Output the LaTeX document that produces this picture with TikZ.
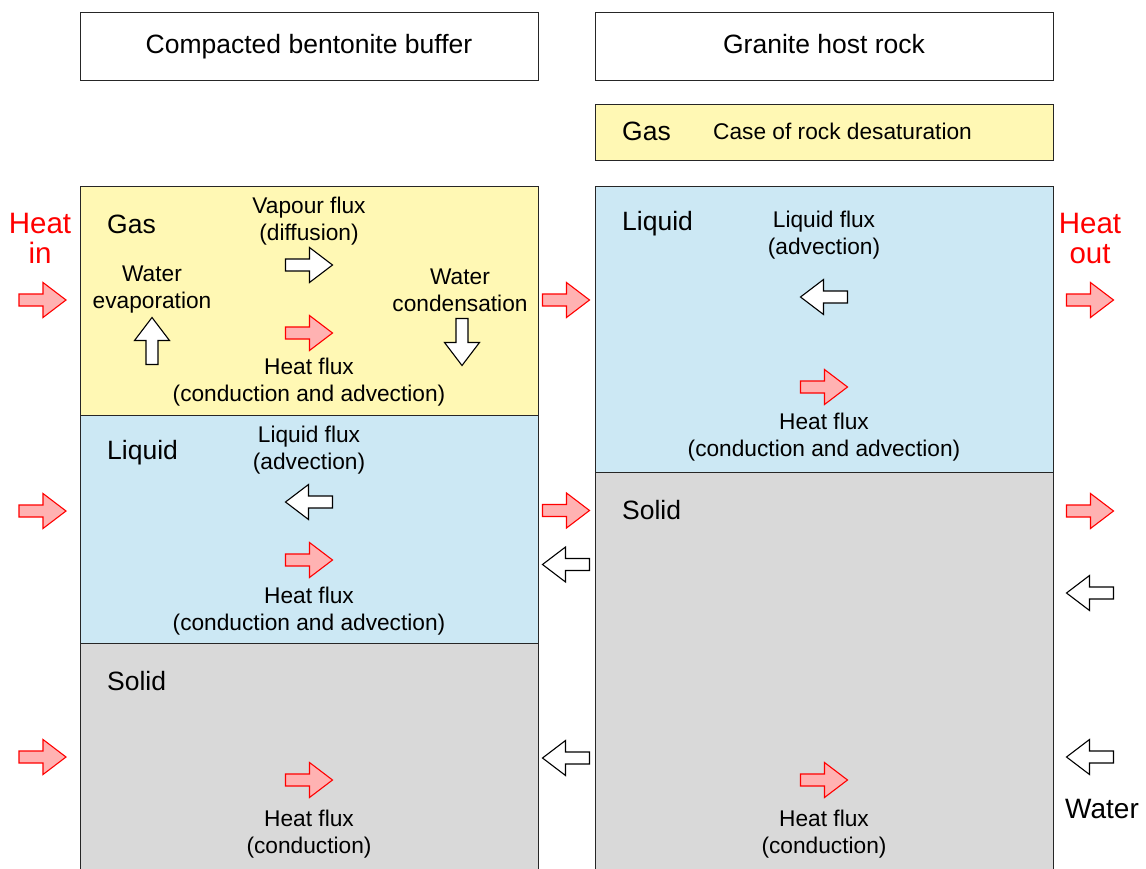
\documentclass[tikz,border=0pt]{standalone}
\usepackage{fontspec}
\setmainfont{Liberation Sans}
\begin{document}
\begin{tikzpicture}[x=1pt,y=-1pt,
  box/.style={draw=black!85,line width=1.2pt,inner sep=0pt,anchor=north west},
  gasfill/.style={fill=gasc},
  liqfill/.style={fill=liqc},
  solfill/.style={fill=solc},
  big/.style={font=\fontsize{26.5}{30}\selectfont,inner sep=0pt},
  small/.style={font=\fontsize{22.7}{27}\selectfont,align=center,inner sep=0pt},
  heatlbl/.style={font=\fontsize{29.5}{30}\selectfont,align=center,inner sep=0pt,text=red},
  redarr/.style={draw=red,fill=arrred,line width=1.1pt,line join=miter},
  whitearr/.style={draw=black,fill=white,line width=1.1pt,line join=miter},
  fat/.pic={\path[pic actions] (-23.5,-6) -- (0.5,-6) -- (0.5,-17.5) -- (23.5,0) -- (0.5,17.5) -- (0.5,6) -- (-23.5,6) -- cycle;}
]
\definecolor{gasc}{RGB}{255,248,180}
\definecolor{liqc}{RGB}{204,232,244}
\definecolor{solc}{RGB}{217,217,217}
\definecolor{arrred}{RGB}{255,178,178}
\useasboundingbox (0,0) rectangle (1146,869);
\clip (0,0) rectangle (1146,869);
% header boxes
\node[box,minimum width=458,minimum height=68] (hdrL) at (80,12) {};
\node[big,anchor=base] (hdrLtxt) at (309,53.5) {Compacted bentonite buffer};
\node[box,minimum width=458,minimum height=68] (hdrR) at (595,12) {};
\node[big,anchor=base] (hdrRtxt) at (824,53.5) {Granite host rock};
% right gas box
\node[box,gasfill,minimum width=458,minimum height=56] (gasR) at (595,104) {};
\node[big,anchor=west] (gasRlbl) at (622,131) {Gas};
\node[small,anchor=west] (gasRtxt) at (713,131) {Case of rock desaturation};
% left column
\node[box,gasfill,minimum width=458,minimum height=229] (gasL) at (80,186) {};
\node[box,liqfill,minimum width=458,minimum height=228] (liqL) at (80,415) {};
\node[box,solfill,minimum width=458,minimum height=260] (solL) at (80,643) {};
% right column
\node[box,liqfill,minimum width=458,minimum height=286] (liqR) at (595,186) {};
\node[box,solfill,minimum width=458,minimum height=400] (solR) at (595,472) {};
% phase labels
\node[big,anchor=west] (gasLlbl) at (107,224) {Gas};
\node[big,anchor=west] (liqLlbl) at (107,453) {Liquid};
\node[big,anchor=west] (solLlbl) at (107,681) {Solid};
\node[big,anchor=west] (liqRlbl) at (622,224) {Liquid};
\node[big,anchor=west] (solRlbl) at (622,510) {Solid};
% texts in left gas
\node[small] (vap) at (309,221) {Vapour flux\\(diffusion)};
\node[small] (evap) at (152,290) {Water\\evaporation};
\node[small] (cond) at (460,290) {Water\\condensation};
\node[small] (hfG) at (309,382) {Heat flux\\(conduction and advection)};
% left liquid
\node[small] (lfL) at (309,450) {Liquid flux\\(advection)};
\node[small] (hfL) at (309,611) {Heat flux\\(conduction and advection)};
% left solid
\node[small] (hfS) at (309,834) {Heat flux\\(conduction)};
% right
\node[small] (lfR) at (824,235) {Liquid flux\\(advection)};
\node[small] (hfR) at (824,437) {Heat flux\\(conduction and advection)};
\node[small] (hfRS) at (824,834) {Heat flux\\(conduction)};
% outside labels
\node[heatlbl] (hin) at (40,238) {Heat\\in};
\node[heatlbl] (hout) at (1090,238) {Heat\\out};
\node[big,font=\fontsize{28}{30}\selectfont] (water) at (1102,809) {Water};
% arrows: heat in
\pic[redarr] (a1) at (42.5,300) {fat};
\pic[redarr] (a2) at (42.5,511) {fat};
\pic[redarr] (a3) at (42.5,757) {fat};
% left gas
\pic[whitearr] (a4) at (309,265) {fat};
\pic[redarr] (a5) at (309,333) {fat};
\pic[whitearr,rotate=90] (a6) at (152,341) {fat};
\pic[whitearr,rotate=-90] (a7) at (462,342) {fat};
% left liquid
\pic[whitearr,rotate=180] (a8) at (309,502) {fat};
\pic[redarr] (a9) at (309,560) {fat};
% left solid
\pic[redarr] (a10) at (309,780) {fat};
% middle gap
\pic[redarr] (a11) at (566,300) {fat};
\pic[redarr] (a12) at (566,510.5) {fat};
\pic[whitearr,rotate=180] (a13) at (566,564.5) {fat};
\pic[whitearr,rotate=180] (a14) at (566,758) {fat};
% right column
\pic[whitearr,rotate=180] (a15) at (824,297) {fat};
\pic[redarr] (a16) at (824,387) {fat};
\pic[redarr] (a17) at (824,780) {fat};
% right outside
\pic[redarr] (a18) at (1090,300) {fat};
\pic[redarr] (a19) at (1090,511) {fat};
\pic[whitearr,rotate=180] (a20) at (1090,593) {fat};
\pic[whitearr,rotate=180] (a21) at (1090,757) {fat};
\end{tikzpicture}
\end{document}
